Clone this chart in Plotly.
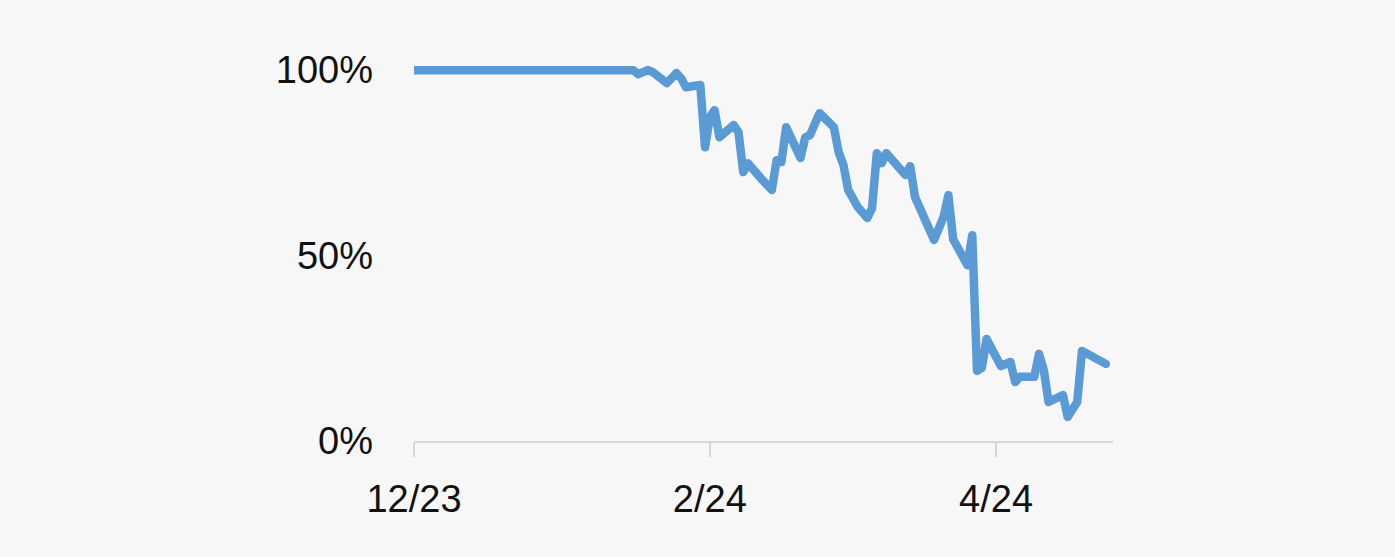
import plotly.graph_objects as go

# share of the starting value
dates = [
    "2023-12-01", "2024-01-16", "2024-01-17", "2024-01-19", "2024-01-20",
    "2024-01-23", "2024-01-25", "2024-01-26", "2024-01-27", "2024-01-30",
    "2024-01-31", "2024-02-01", "2024-02-02", "2024-02-03", "2024-02-06",
    "2024-02-07", "2024-02-08", "2024-02-09", "2024-02-12", "2024-02-14",
    "2024-02-15", "2024-02-16", "2024-02-17", "2024-02-20", "2024-02-21",
    "2024-02-22", "2024-02-24", "2024-02-27", "2024-02-28", "2024-02-29",
    "2024-03-01", "2024-03-03", "2024-03-05", "2024-03-06", "2024-03-07",
    "2024-03-08", "2024-03-09", "2024-03-13", "2024-03-14", "2024-03-15",
    "2024-03-19", "2024-03-20", "2024-03-21", "2024-03-22", "2024-03-23",
    "2024-03-26", "2024-03-27", "2024-03-28", "2024-03-29", "2024-03-30",
    "2024-04-02", "2024-04-04", "2024-04-05", "2024-04-06", "2024-04-09",
    "2024-04-10", "2024-04-11", "2024-04-12", "2024-04-15", "2024-04-16",
    "2024-04-18", "2024-04-19", "2024-04-24",
]
values = [
    100, 100, 98.9, 100, 99.5,
    96.5, 99.2, 97.8, 95.4, 96,
    79.2, 87.3, 89.2, 81.9, 85.2,
    83.3, 72.5, 74.9, 70.4, 67.7,
    75.7, 75.2, 84.6, 76.3, 81.9,
    82.5, 88.4, 84.6, 77.9, 74.4,
    67.7, 63.1, 60.1, 62.8, 77.6,
    74.9, 77.6, 71.7, 74.1, 65.8,
    54.2, 57.9, 60.4, 66.3, 54.4,
    47.4, 55.5, 18.9, 19.7, 27.5,
    20.2, 21.3, 15.9, 17.3, 17.3,
    23.5, 19.1, 10.5, 12.4, 6.5,
    10.5, 24.3, 20.8,
]

x_ticks = ["2023-12-01", "2024-02-01", "2024-04-01"]
x_labels = ["12/23", "2/24", "4/24"]
y_ticks = [0, 50, 100]
y_labels = ["0%", "50%", "100%"]

BG = "#f7f7f7"

fig = go.Figure()
fig.add_trace(go.Scatter(
    x=dates, y=values, mode="lines",
    line=dict(color="#5b9bd5", width=8.5),
    hoverinfo="skip",
))

fig.update_layout(
    width=1395, height=557,
    paper_bgcolor=BG, plot_bgcolor=BG,
    margin=dict(l=414, r=282, t=59, b=116),
    showlegend=False,
    font=dict(family="Liberation Sans, Arial, sans-serif", size=38, color="#111111"),
)
fig.update_xaxes(
    type="date", range=["2023-12-01", "2024-04-25 12:00"],
    tickvals=x_ticks, ticktext=x_labels,
    showgrid=False, zeroline=False,
    showline=True, linecolor="#d6d6d6", linewidth=2,
    ticks="outside", ticklen=14, tickwidth=2, tickcolor="#d6d6d6",
    ticklabelstandoff=9,
)
fig.update_yaxes(
    range=[0, 103],
    tickvals=y_ticks, ticktext=y_labels,
    showgrid=False, zeroline=False, showline=False,
    ticks="", ticklabelstandoff=40,
)

# drop the page's default margin and round the line's joins and ends
page_js = (
    "document.body.style.margin='0';"
    "document.body.style.background='%s';"
    "document.querySelectorAll('.js-line').forEach(function(p){"
    "p.style.strokeLinejoin='round';p.style.strokeLinecap='round';});" % BG
)
fig.write_html("out.html", post_script=page_js, config={"displayModeBar": False})
